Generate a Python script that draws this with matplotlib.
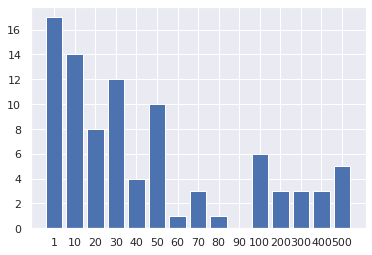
import matplotlib
matplotlib.use("Agg")
import matplotlib.pyplot as plt
import seaborn as sns

sns.set()

labels = ["1", "10", "20", "30", "40", "50", "60", "70", "80", "90",
          "100", "200", "300", "400", "500"]
counts = [17, 14, 8, 12, 4, 10, 1, 3, 1, 0, 6, 3, 3, 3, 5]

fig, ax = plt.subplots(figsize=(6, 4), dpi=72)
ax.bar(labels, counts)

plt.savefig("out.png", dpi=72, bbox_inches="tight")
